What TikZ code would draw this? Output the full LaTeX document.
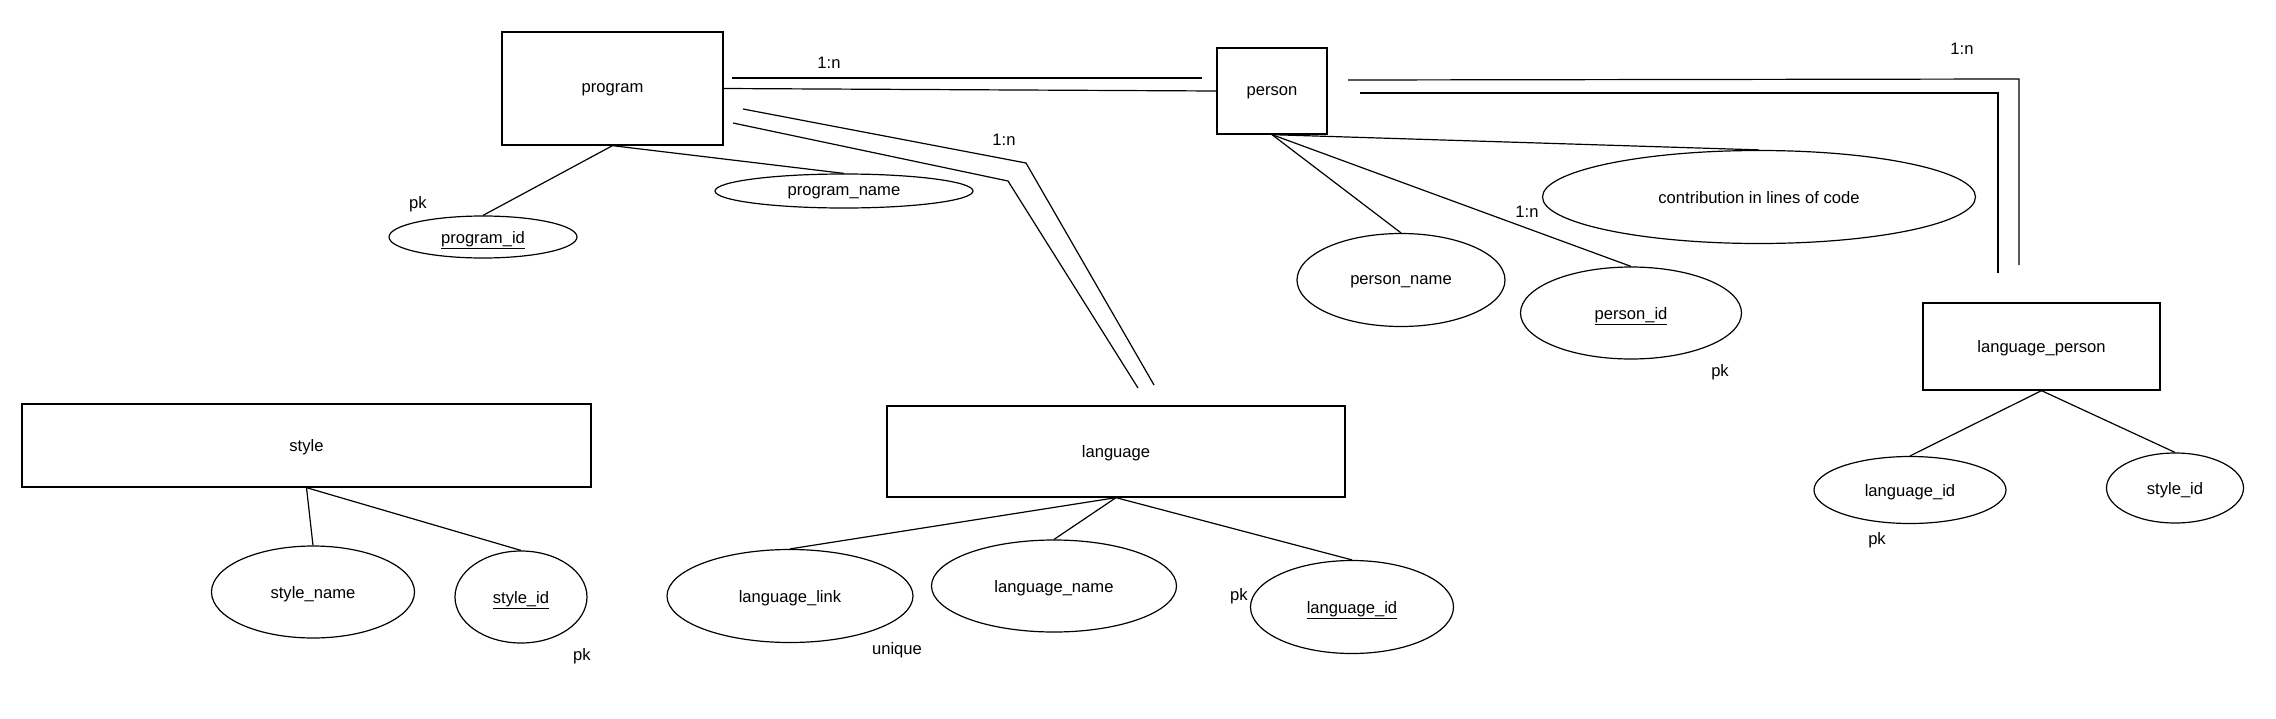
\documentclass[tikz,border=0pt]{standalone}
\usepackage{fontspec}
\setmainfont{Liberation Sans}
\usetikzlibrary{shapes.geometric}
\begin{document}
\begin{tikzpicture}[x=1pt,y=-1pt,
  every node/.style={font=\fontsize{16.6}{20}\selectfont, text depth=0pt},
  entity/.style={draw, rectangle, inner sep=0pt, line width=1.3pt},
  attr/.style={draw, ellipse, inner sep=0pt, line width=1.2pt},
  lbl/.style={inner sep=0pt},
  conn/.style={line width=1.2pt}]
\useasboundingbox (0,0) rectangle (2276,718);
% entities
\node[entity, minimum width=221pt, minimum height=113pt] (program) at (612.5,88.5) {program};
\node[entity, minimum width=110pt, minimum height=86pt] (person) at (1272,91) {person};
\node[entity, minimum width=237pt, minimum height=87pt] (lp) at (2041.5,346.5) {language\_person};
\node[entity, minimum width=569pt, minimum height=83pt] (style) at (306.5,445.5) {style};
\node[entity, minimum width=458pt, minimum height=91pt] (language) at (1116,451.5) {language};
% attributes
\node[attr, minimum width=188pt, minimum height=42pt] (pid) at (483,237) {\underline{program\_id}};
\node[attr, minimum width=258pt, minimum height=34pt] (pname) at (844,191) {program\_name};
\node[attr, minimum width=433pt, minimum height=93pt] (contrib) at (1759,197) {contribution in lines of code};
\node[attr, minimum width=208pt, minimum height=93pt] (persname) at (1401,280) {person\_name};
\node[attr, minimum width=221pt, minimum height=92pt] (persid) at (1631,313) {\underline{person\_id}};
\node[attr, minimum width=192pt, minimum height=67pt] (lplid) at (1910,490) {language\_id};
\node[attr, minimum width=137pt, minimum height=70pt] (lpsid) at (2175,488) {style\_id};
\node[attr, minimum width=203pt, minimum height=92pt] (sname) at (313,592) {style\_name};
\node[attr, minimum width=132pt, minimum height=92pt] (sid) at (521,597) {\underline{style\_id}};
\node[attr, minimum width=246pt, minimum height=93pt] (llink) at (790,596) {language\_link};
\node[attr, minimum width=245pt, minimum height=92pt] (lname) at (1054,586) {language\_name};
\node[attr, minimum width=203pt, minimum height=93pt] (lid) at (1352,607) {\underline{language\_id}};
% labels
\node[lbl] (r1) at (829,63) {1:n};
\node[lbl] (r2) at (1004,140) {1:n};
\node[lbl] (r3) at (1962,49) {1:n};
\node[lbl] (r4) at (1527,212) {1:n};
\node[lbl] (pk1) at (418,202) {pk};
\node[lbl] (pk2) at (1720,370) {pk};
\node[lbl] (pk3) at (1877,538) {pk};
\node[lbl] (pk4) at (582,654) {pk};
\node[lbl] (pk5) at (1239,594) {pk};
\node[lbl] (uq) at (897,648) {unique};
% free coordinates
\coordinate (a1) at (732,78);
\coordinate (a2) at (1202,78);
\coordinate (b1) at (743,109);
\coordinate (b2) at (1026,163);
\coordinate (b3) at (1154,385);
\coordinate (c1) at (733,123);
\coordinate (c2) at (1008,181);
\coordinate (c3) at (1138,388);
\coordinate (d1) at (1348,80);
\coordinate (d2) at (2019,79);
\coordinate (d3) at (2019,265);
\coordinate (e1) at (1360,93);
\coordinate (e2) at (1998,93);
\coordinate (e3) at (1998,273);
% relationship lines
\draw[conn] (program.east) -- (person.west);
\draw[conn] (a1) -- (a2);
\draw[conn] (b1) -- (b2) -- (b3);
\draw[conn] (c1) -- (c2) -- (c3);
\draw[conn] (d1) -- (d2) -- (d3);
\draw[conn] (e1) -- (e2) -- (e3);
% attribute connectors
\draw[conn] (program.south) -- (pid.north);
\draw[conn] (program.south) -- (pname.north);
\draw[conn] (person.south) -- (contrib.north);
\draw[conn] (person.south) -- (persname.north);
\draw[conn] (person.south) -- (persid.north);
\draw[conn] (lp.south) -- (lplid.north);
\draw[conn] (lp.south) -- (lpsid.north);
\draw[conn] (style.south) -- (sname.north);
\draw[conn] (style.south) -- (sid.north);
\draw[conn] (language.south) -- (llink.north);
\draw[conn] (language.south) -- (lname.north);
\draw[conn] (language.south) -- (lid.north);
\end{tikzpicture}
\end{document}
